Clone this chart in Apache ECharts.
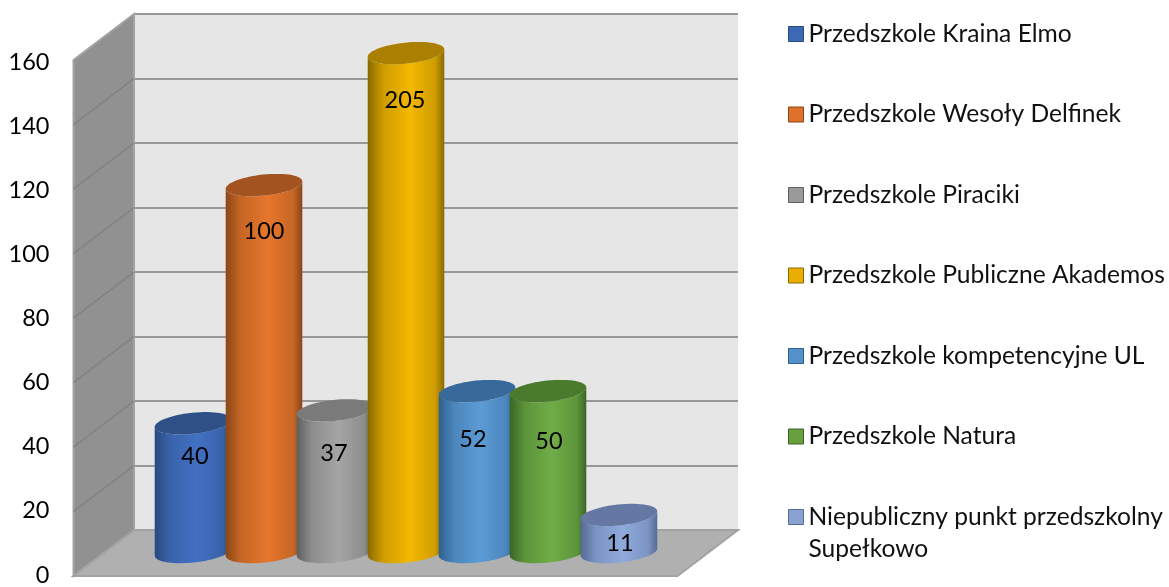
<!DOCTYPE html>
<html>
<head>
<meta charset="utf-8">
<style>
   html, body { margin: 0; padding: 0; background: #ffffff; }
   #wykres { width: 1169px; height: 587px; }
</style>
<script src="https://cdn.jsdelivr.net/npm/echarts@6/dist/echarts.min.js"></script>
</head>
<body>
<div id="wykres"></div>
<script>
// ── Dane ────────────────────────────────────────────────────────────────────
const przedszkola = [
   "Przedszkole Kraina Elmo",
   "Przedszkole Wesoły Delfinek",
   "Przedszkole Piraciki",
   "Przedszkole Publiczne Akademos",
   "Przedszkole kompetencyjne UL",
   "Przedszkole Natura",
   "Niepubliczny punkt przedszkolny Supełkowo"
];
const wysokosci = [40, 114, 44, 155, 50, 50, 11.5];
const etykiety = ["40", "100", "37", "205", "52", "50", "11"];
const ticks = [0, 20, 40, 60, 80, 100, 120, 140, 160];

// ── Styl ────────────────────────────────────────────────────────────────────
const czcionka = "Lato, 'Open Sans', sans-serif";
const kolorySlupkow = [
   { srodek: "#4270c2", brzeg: "#284a80", gora: "#2f5188", legenda: "#3d68b4" },
   { srodek: "#e6762c", brzeg: "#8a4718", gora: "#a2531f", legenda: "#dd702a" },
   { srodek: "#a5a5a5", brzeg: "#5f5f5f", gora: "#7a7a7a", legenda: "#9a9a9a" },
   { srodek: "#f4b800", brzeg: "#8a6a00", gora: "#ab8000", legenda: "#eaae00" },
   { srodek: "#5b9bd5", brzeg: "#2f5f8e", gora: "#37699a", legenda: "#5391c8" },
   { srodek: "#70ad47", brzeg: "#3a6626", gora: "#4a7a2c", legenda: "#68a040" },
   { srodek: "#8faadc", brzeg: "#566a94", gora: "#6578a3", legenda: "#8aa2d2" }
];
// przesunięcie etykiety względem środka górnej elipsy
const opadEtykiety = [33, 46, 43, 47, 48, 50, 28];
const bokEtykiety = [2, 0, -1, -1, -4, 1, 1];
const glebia = { x: -60.5, y: 46 };
const rx = 38.5, ry = 10.5, przechyl = -6 * Math.PI / 180;

const punktElipsy = (cx, cy, t) => {
   const px = rx * Math.cos(t), py = ry * Math.sin(t);
   return [
      cx + px * Math.cos(przechyl) - py * Math.sin(przechyl),
      cy + px * Math.sin(przechyl) + py * Math.cos(przechyl)
   ];
};

const luk = (cx, cy, od, doKata, kroki) => {
   const lista = [];
   for (let i = 0; i <= kroki; i++) lista.push(punktElipsy(cx, cy, od + (doKata - od) * i / kroki));
   return lista;
};

const fnRysujSlupek = (params, api) => {
   const idx = api.value(0);
   const gora = api.coord([idx, api.value(1)]);
   const dol = api.coord([idx, 0]);
   const k = kolorySlupkow[idx];
   const posredni = echarts.color.lerp(0.65, [k.brzeg, k.srodek]);
   const cialo = luk(dol[0], dol[1], 0, Math.PI, 40).concat(luk(gora[0], gora[1], Math.PI, 0, 40));
   return {
      type: "group",
      children: [
         {
            type: "polygon",
            shape: { points: cialo },
            style: {
               fill: new echarts.graphic.LinearGradient(0, 0, 1, 0, [
                  { offset: 0, color: k.brzeg },
                  { offset: 0.2, color: posredni },
                  { offset: 0.55, color: k.srodek },
                  { offset: 0.88, color: posredni },
                  { offset: 1, color: k.brzeg }
               ])
            }
         },
         {
            type: "polygon",
            shape: { points: luk(gora[0], gora[1], 0, Math.PI * 2, 60) },
            style: { fill: k.gora }
         },
         {
            type: "text",
            style: {
               text: etykiety[idx],
               x: gora[0] + bokEtykiety[idx],
               y: gora[1] + opadEtykiety[idx],
               align: "center",
               verticalAlign: "middle",
               fontSize: 23.5,
               fontFamily: czcionka,
               fill: "#000000"
            }
         }
      ]
   };
};

// ściana boczna i podłoga, liczone ze skali tylnej ściany
const fnRysujSciany = (params, api) => {
   const lg = api.coord([0, ticks[ticks.length - 1]]);
   const ld = api.coord([0, 0]);
   const pd = api.coord([1, 0]);
   const przod = (p) => [p[0] + glebia.x, p[1] + glebia.y];
   return {
      type: "group",
      children: [
         {
            type: "polygon",
            shape: { points: [lg, ld, przod(ld), przod(lg)] },
            style: { fill: "#919191", stroke: "#a3a3a3", lineWidth: 2 }
         },
         {
            type: "polygon",
            shape: { points: [ld, pd, przod(pd), przod(ld)] },
            style: { fill: "#b0b0b0", stroke: "#a3a3a3", lineWidth: 2 }
         }
      ]
   };
};

const fnRysujKreske = (params, api) => {
   const p = api.coord([0, api.value(0)]);
   return {
      type: "line",
      shape: { x1: p[0], y1: p[1], x2: p[0] + glebia.x, y2: p[1] + glebia.y },
      style: { stroke: "#808080", lineWidth: 1.5 }
   };
};

const seriaSlupki = przedszkola.map((nazwa, i) => ({
   name: nazwa,
   type: "custom",
   xAxisIndex: 2,
   yAxisIndex: 2,
   clip: false,
   z: 5,
   itemStyle: { color: kolorySlupkow[i].legenda },
   encode: { x: 0, y: 1 },
   data: [[i, wysokosci[i]]],
   renderItem: fnRysujSlupek
}));

const legendaBaza = {
   orient: "vertical",
   left: 788,
   padding: 0,
   itemWidth: 15,
   itemHeight: 15,
   selectedMode: false,
   textStyle: { fontFamily: czcionka, fontSize: 24.6, color: "#111111", lineHeight: 32 }
};

const fnPozycjaLegendy = (nazwa, i) => ({
   name: nazwa,
   icon: "rect",
   itemStyle: { color: kolorySlupkow[i].legenda, borderColor: kolorySlupkow[i].brzeg, borderWidth: 1 }
});

const ukryta = { show: false };
const osY = { type: "value", min: 0, max: 160, interval: 20 };

const opcje = {
   animation: false,
   backgroundColor: "#ffffff",
   grid: [
      { left: 134, top: 14, width: 604, height: 516, show: true, backgroundColor: "#e6e6e6", borderWidth: 0 },
      { left: 73.5, top: 62, width: 604, height: 516 },
      { left: 157.5, top: 37, width: 497, height: 515 }
   ],
   xAxis: [
      { gridIndex: 0, type: "value", min: 0, max: 1, ...ukryta },
      { gridIndex: 1, type: "value", min: 0, max: 1, ...ukryta },
      { gridIndex: 2, type: "category", data: przedszkola, ...ukryta }
   ],
   yAxis: [
      {
         gridIndex: 0, ...osY,
         axisLine: { show: false },
         axisTick: { show: false },
         axisLabel: { show: false },
         splitLine: { lineStyle: { color: "#999999", width: 2 } }
      },
      {
         gridIndex: 1, ...osY,
         axisLine: { show: false },
         axisTick: { show: false },
         splitLine: { show: false },
         axisLabel: { margin: 24, fontSize: 23.5, fontFamily: czcionka, color: "#000000" }
      },
      { gridIndex: 2, ...osY, ...ukryta }
   ],
   legend: [
      {
         ...legendaBaza,
         top: 18,
         itemGap: 48.5,
         data: przedszkola.slice(0, 6).map(fnPozycjaLegendy)
      },
      {
         ...legendaBaza,
         top: 469,
         data: [fnPozycjaLegendy(przedszkola[6], 6)],
         // pusta pierwsza linia, żeby ikona stała przy pierwszym wierszu
         formatter: () => "\nNiepubliczny punkt przedszkolny\nSupełkowo"
      }
   ],
   series: [
      {
         type: "custom",
         xAxisIndex: 0,
         yAxisIndex: 0,
         clip: false,
         z: 1,
         silent: true,
         data: [[0, 0]],
         renderItem: fnRysujSciany
      },
      {
         type: "custom",
         xAxisIndex: 0,
         yAxisIndex: 0,
         clip: false,
         z: 2,
         silent: true,
         data: ticks.slice(1, -1).map(t => [t]),
         encode: { y: 0 },
         renderItem: fnRysujKreske
      },
      ...seriaSlupki
   ]
};

const wykres = echarts.init(document.getElementById("wykres"));
wykres.setOption(opcje);
</script>
</body>
</html>
